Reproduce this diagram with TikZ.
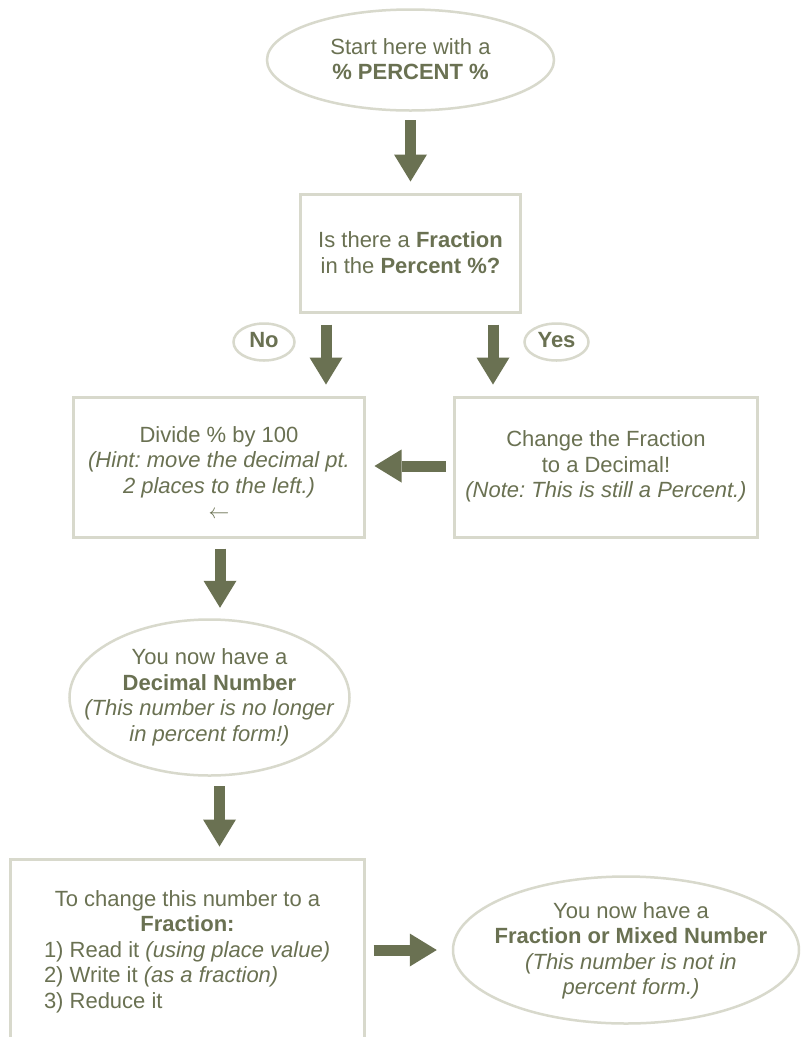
\documentclass[tikz,border=0pt]{standalone}
\usepackage{fontspec}
\setmainfont{Liberation Sans}
\usetikzlibrary{shapes.geometric,arrows.meta}
\definecolor{olive}{RGB}{106,113,82}
\definecolor{rim}{RGB}{216,217,204}
\frenchspacing
\begin{document}
\begin{tikzpicture}[x=1pt,y=-1pt,
  txt/.style={text=olive,font=\frenchspacing\fontsize{22pt}{25.5pt}\selectfont,align=center,inner sep=0pt},
  oval/.style={ellipse,draw=rim,line width=2.5pt,inner sep=0pt},
  boxn/.style={rectangle,draw=rim,line width=3pt,inner sep=0pt},
  bigarrow/.style={draw=olive,line width=11pt,-{Triangle[width=33pt,length=27pt,line width=0pt]}}]
\useasboundingbox (0,0) rectangle (801,1037);
\fill[white] (0,0) rectangle (801,1037);

% shapes
\node[oval,minimum width=287pt,minimum height=101pt] (top) at (410.5,60) {};
\node[boxn,minimum width=220pt,minimum height=118pt] (q) at (410.5,253.5) {};
\node[oval,minimum width=61pt,minimum height=37pt] (no) at (264,342) {};
\node[oval,minimum width=64pt,minimum height=37pt] (yes) at (556.5,342) {};
\node[boxn,minimum width=291pt,minimum height=140pt] (divide) at (219,467.5) {};
\node[boxn,minimum width=303pt,minimum height=140pt] (change) at (606,467.5) {};
\node[oval,minimum width=280pt,minimum height=156pt] (decimal) at (209.5,697.5) {};
\node[boxn,minimum width=354pt,minimum height=185.5pt] (frac) at (187.5,952.25) {};
\node[oval,minimum width=346pt,minimum height=147pt] (final) at (626,950) {};

% texts
\node[txt] (topt) at (410.5,59) {Start here with a\\\textbf{\% PERCENT \%}};
\node[txt] (qt) at (410.5,252.5) {Is there a \textbf{Fraction}\\in the \textbf{Percent \%?}};
\node[txt] (not) at (264,340) {\textbf{No}};
\node[txt] (yest) at (556.5,340) {\textbf{Yes}};
\node[txt] (dividet) at (219,472.5) {Divide \% by 100\\\textit{(Hint: move the decimal pt.}\\\textit{2 places to the left.)}\\$\leftarrow$};
\node[txt] (changet) at (606,466.5) {Change the Fraction\\to a Decimal!\\\textit{(Note: This is still a Percent.)}};
\node[txt] (decimalt) at (209.5,697.5) {You now have a\\\textbf{Decimal Number}\\\textit{(This number is no longer}\\\textit{in percent form!)}};
\node[txt] (fract) at (187.5,951.3) {To change this number to a\\\textbf{Fraction:}\\\makebox[287pt][l]{1) Read it \textit{(using place value)}}\\\makebox[287pt][l]{2) Write it \textit{(as a fraction)}}\\\makebox[287pt][l]{3) Reduce it}};
\node[txt] (finalt) at (631,950.6) {You now have a\\\textbf{Fraction or Mixed Number}\\\textit{(This number is not in}\\\textit{percent form.)}};

% arrows
\draw[bigarrow] ([yshift=-8.5pt]top.south) -- ([yshift=11.5pt]q.north);
\draw[bigarrow] ([xshift=-84.5pt,yshift=-10.5pt]q.south) -- ([xshift=107pt,yshift=11.5pt]divide.north);
\draw[bigarrow] ([xshift=82.5pt,yshift=-10.5pt]q.south) -- ([xshift=-113pt,yshift=11.5pt]change.north);
\draw[bigarrow] ([xshift=-7.5pt,yshift=1.5pt]change.west) -- ([xshift=8.5pt,yshift=1.5pt]divide.east);
\draw[bigarrow] ([xshift=1pt,yshift=-9.5pt]divide.south) -- ([xshift=10.5pt,yshift=10.5pt]decimal.north);
\draw[bigarrow] ([xshift=10pt,yshift=-9.5pt]decimal.south) -- ([xshift=32pt,yshift=11.5pt]frac.north);
\draw[bigarrow] ([xshift=7.5pt,yshift=2.25pt]frac.east) -- ([xshift=-15pt]final.west);
\end{tikzpicture}
\end{document}
